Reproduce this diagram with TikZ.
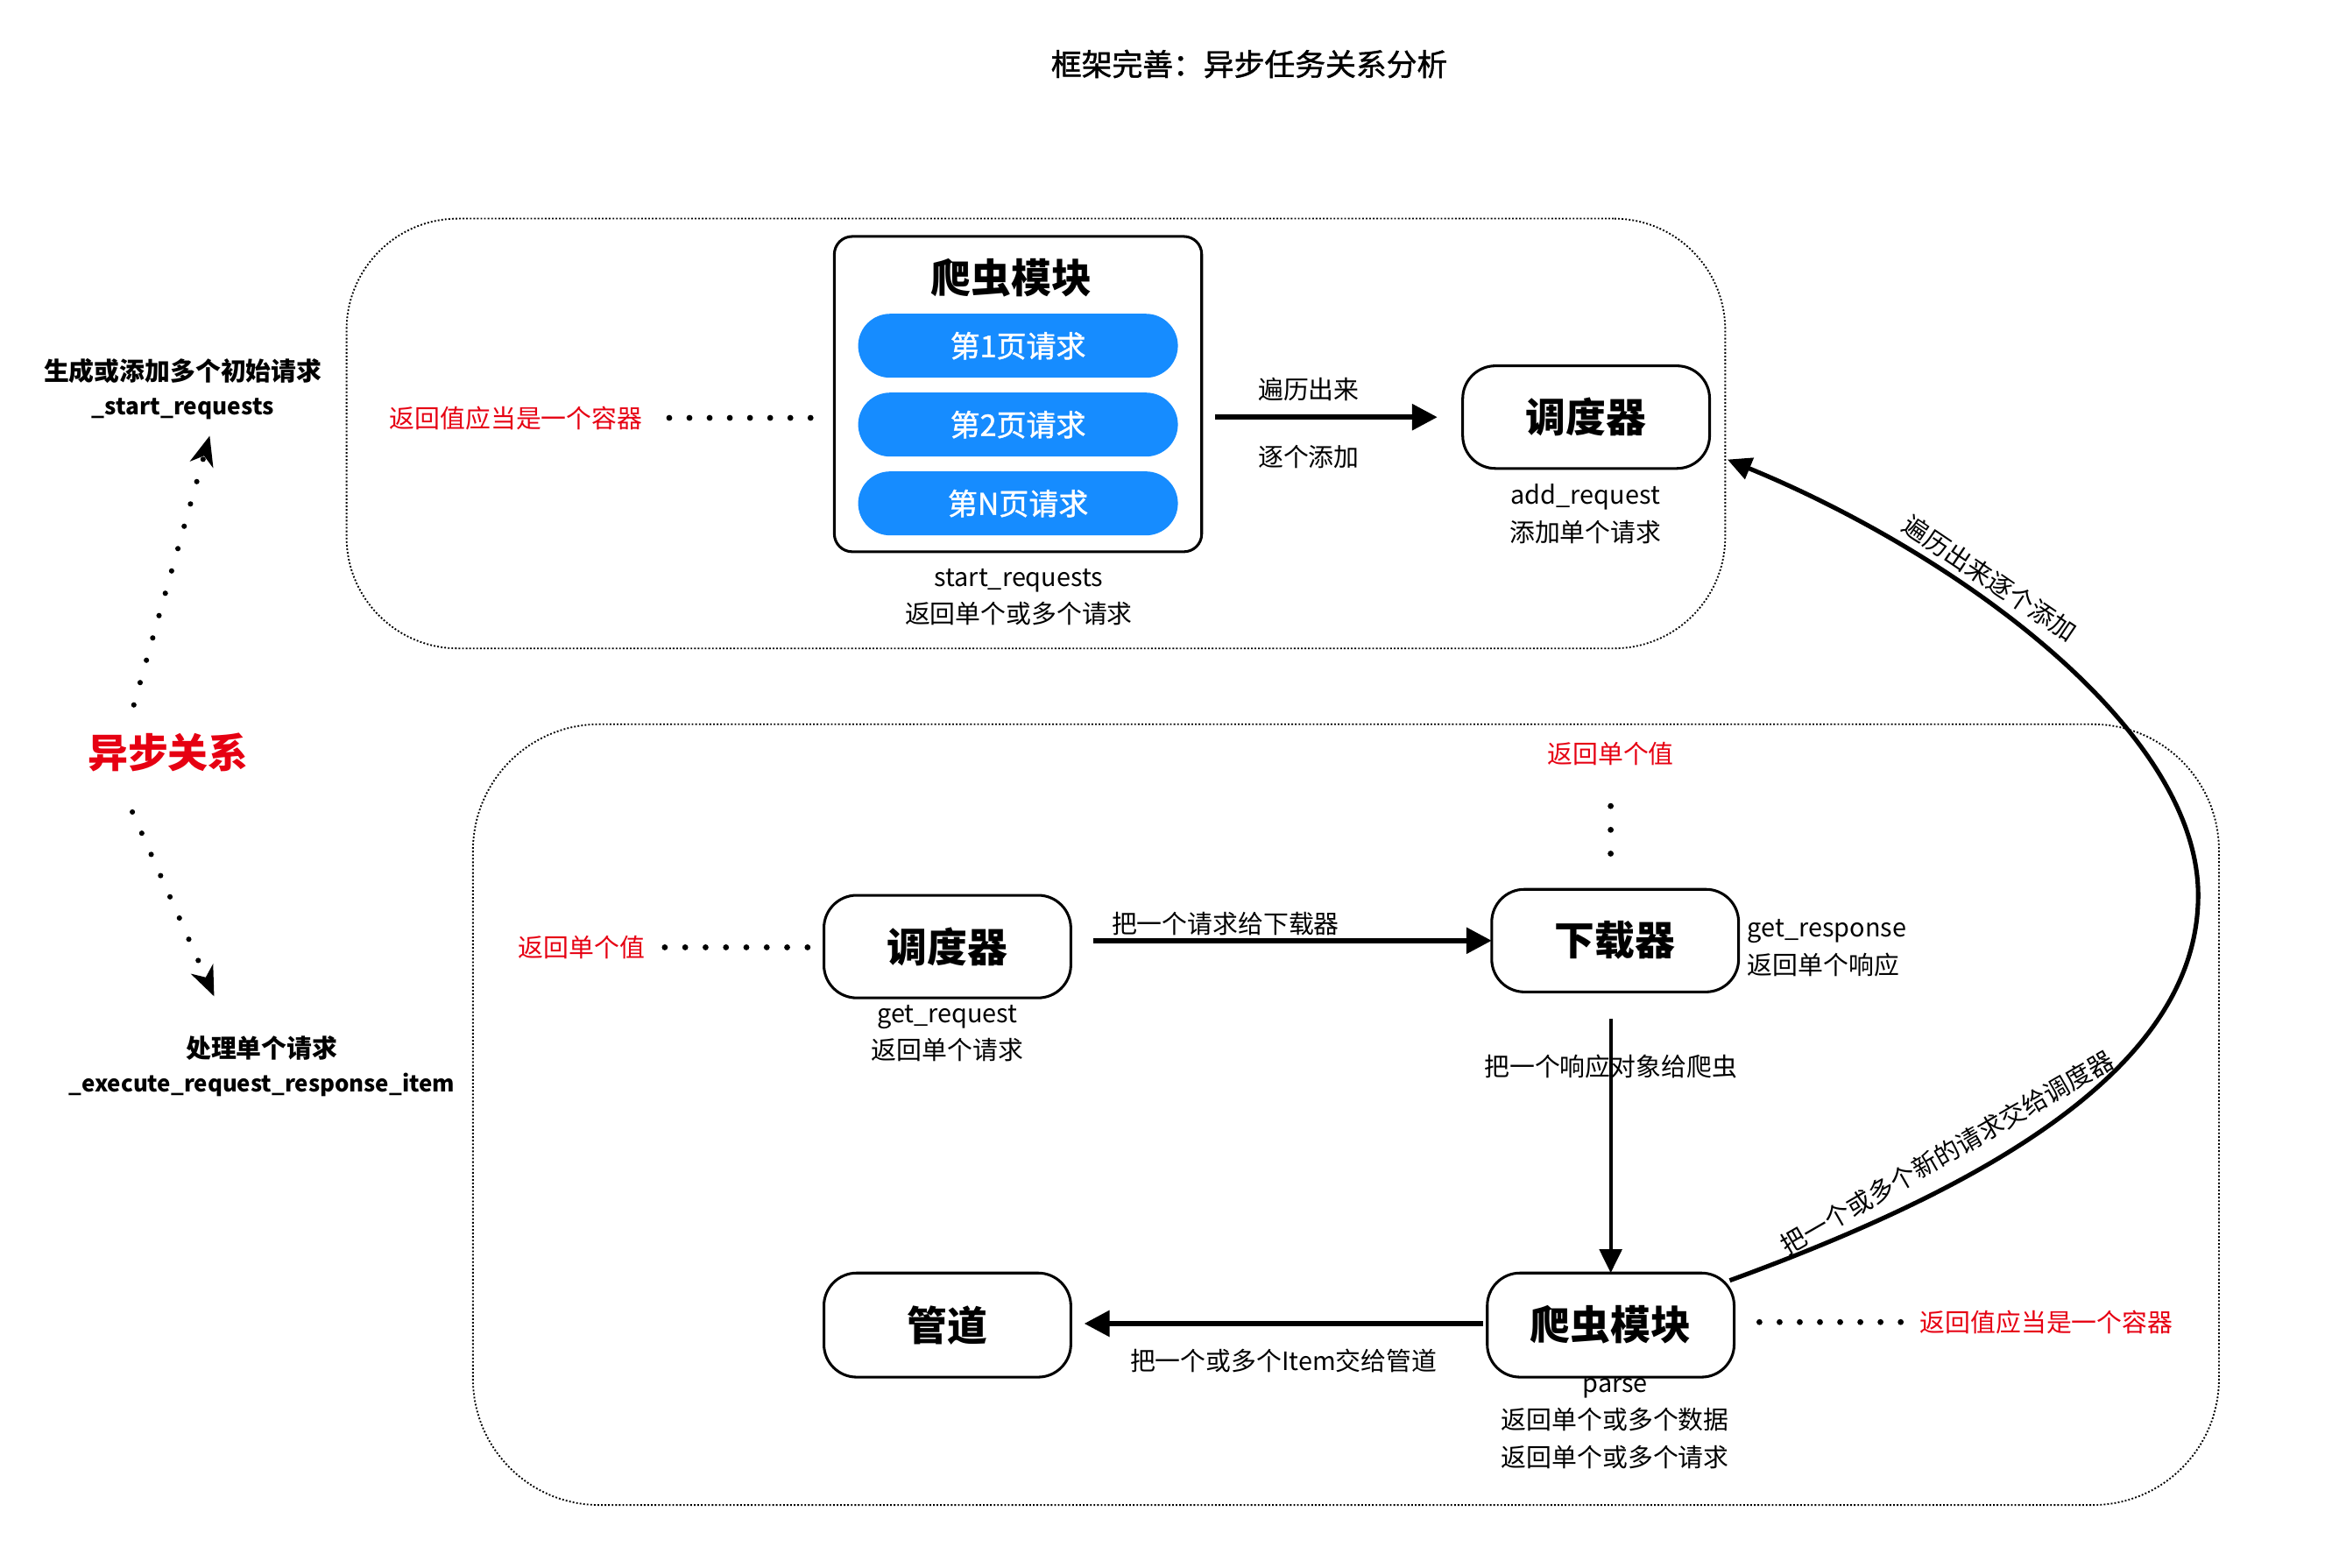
\documentclass[tikz,border=0pt]{standalone}
\usepackage{fontspec}
\setmainfont{Noto Sans CJK SC}
\newfontfamily\medfont{Noto Sans CJK SC}[BoldFont={Noto Sans CJK SC}, BoldFeatures={FakeBold=1.3}]
\usetikzlibrary{arrows.meta,calc}
\definecolor{myred}{RGB}{230,0,18}
\definecolor{myblue}{RGB}{22,140,255}
\begin{document}
\begin{tikzpicture}[x=1pt,y=-1pt,
 every node/.style={inner sep=0pt, outer sep=0pt},
 lbl/.style={font=\fontsize{17}{25}\selectfont, align=center},
 blbl/.style={font=\fontsize{17}{23}\selectfont\bfseries, align=center},
 redlbl/.style={font=\fontsize{17}{20}\selectfont, text=myred},
 box/.style={draw, line width=1.8pt, rounded corners=22pt, minimum width=166pt, minimum height=69pt, font=\fontsize{27}{30}\selectfont\bfseries},
 pill/.style={fill=myblue, rounded corners=21.5pt, minimum width=215pt, minimum height=43pt, text=white, font=\fontsize{20}{22}\selectfont\medfont\bfseries},
 groupframe/.style={draw, line width=1.1pt, dash pattern=on 1.1pt off 1.3pt},
 flow/.style={line width=3.5pt, -{Triangle[length=17pt,width=17pt]}},
 bigdots/.style={line width=4pt, line cap=round, dash pattern=on 0pt off 13.6pt},
 smalldots/.style={line width=3.6pt, line cap=round, dash pattern=on 0pt off 15.6pt, -{Stealth[length=20pt,width=16pt,inset=6pt]}},
]
\useasboundingbox (0,0) rectangle (1568,1054);

% title
\node[font=\fontsize{20.5}{24}\selectfont\medfont\bfseries] (title) at (840,43) {框架完善：异步任务关系分析};

% frames
\node[groupframe, rounded corners=75pt, minimum width=927pt, minimum height=289pt] (topframe) at (696.5,291.5) {};
\node[groupframe, rounded corners=85pt, minimum width=1174pt, minimum height=525pt] (botframe) at (905,749.5) {};

% top group
\node[draw, line width=1.8pt, rounded corners=12pt, minimum width=247pt, minimum height=212pt] (spider1) at (684.5,265) {};
\node[font=\fontsize{27}{30}\selectfont\bfseries] (spider1title) at (680,187) {爬虫模块};
\node[pill] (p1) at (684.5,232.5) {第1页请求};
\node[pill] (p2) at (684.5,285.5) {第2页请求};
\node[pill] (p3) at (684.5,338.5) {第N页请求};
\node[lbl] (spider1txt) at (685,401.5) {start\_requests\\返回单个或多个请求};

\node[box] (sched1) at (1066.5,280.5) {调度器};
\node[lbl] (sched1txt) at (1066,345.5) {add\_request\\添加单个请求};

\node[redlbl] (r1) at (347,281) {返回值应当是一个容器};
\draw[bigdots, dash pattern=on 0pt off 13.57pt] ($(spider1.west |- r1)+(-111,0)$) -- ($(spider1.west |- r1)+(-15.9,0)$);

\draw[flow] ($(spider1.east |- sched1.west)+(9,0)$) -- ($(sched1.west)+(-17,0)$);
\node[lbl] (e1a) at (880,262) {遍历出来};
\node[lbl] (e1b) at (880,307) {逐个添加};

% left side
\node[blbl] (gen) at (123,261.5) {生成或添加多个初始请求\\{\fontsize{15.4}{23}\selectfont\_start\_requests}};
\node[font=\fontsize{27}{30}\selectfont\bfseries, text=myred] (async) at (113,506) {异步关系};
\node[blbl] (exec) at (176,717) {处理单个请求\\{\fontsize{15.2}{23}\selectfont\_execute\_request\_response\_item}};
\draw[smalldots] (90,474) -- (141,293);
\draw[smalldots] (89,546) -- (144,670);

% bottom group
\node[box] (sched2) at (637,636.5) {调度器};
\node[lbl] (sched2txt) at (637,695) {get\_request\\返回单个请求};
\node[redlbl] (r2) at (391,637) {返回单个值};
\draw[bigdots, dash pattern=on 0pt off 13.71pt] ($(sched2.west |- r2)+(-107,0)$) -- ($(sched2.west |- r2)+(-10.9,0)$);

\node[box] (dl) at (1086,632.5) {下载器};
\node[lbl, anchor=west, align=left] (dltxt) at (1175,637.5) {get\_response\\返回单个响应};
\node[redlbl] (r3) at (1083,507) {返回单个值};
\draw[bigdots, dash pattern=on 0pt off 16pt] ($(r3 |- dl.north)+(0,-56)$) -- ($(r3 |- dl.north)+(0,-23.9)$);

\draw[flow] ($(sched2.east |- dl.west)+(15,0)$) -- (dl.west);

\node[box, minimum height=70pt] (spider2) at (1083,891) {爬虫模块};
\node[lbl] (spider2txt) at (1086,957) {parse\\返回单个或多个数据\\返回单个或多个请求};
\node[redlbl] (r4) at (1376,889) {返回值应当是一个容器};
\draw[bigdots, dash pattern=on 0pt off 13.57pt] ($(spider2.east |- r4)+(17,0)$) -- ($(spider2.east |- r4)+(112.1,0)$);

\node[box, minimum height=70pt] (pipe) at (637,891) {管道};

\draw[line width=2.4pt, -{Triangle[length=16pt,width=15pt]}] ($(spider2.north |- dl.south)+(0,18)$) -- (spider2.north);
\node[lbl] (e3) at (1083,717) {把一个响应对象给爬虫};

\draw[flow] ($(spider2.west |- pipe.east)+(-3,-1)$) -- ($(pipe.east)+(9,-1)$);
\node[lbl] (e2) at (824,621) {把一个请求给下载器};
\node[lbl] (e4) at (863,915) {把一个或多个Item交给管道};

% curved return connector
\draw[line width=3pt, -{Triangle[length=16pt,width=15pt]}] ($(spider2.north east)+(-3,5)$) .. controls (1330,800) and (1478,720) .. (1478,602) .. controls (1478,490) and (1315,372) .. ($(sched1.south east)+(12,-6)$);
\node[lbl, rotate=-34] (cl1) at (1338,389) {遍历出来逐个添加};
\node[lbl, rotate=30] (cl2) at (1309,775) {把一个或多个新的请求交给调度器};
\end{tikzpicture}
\end{document}
